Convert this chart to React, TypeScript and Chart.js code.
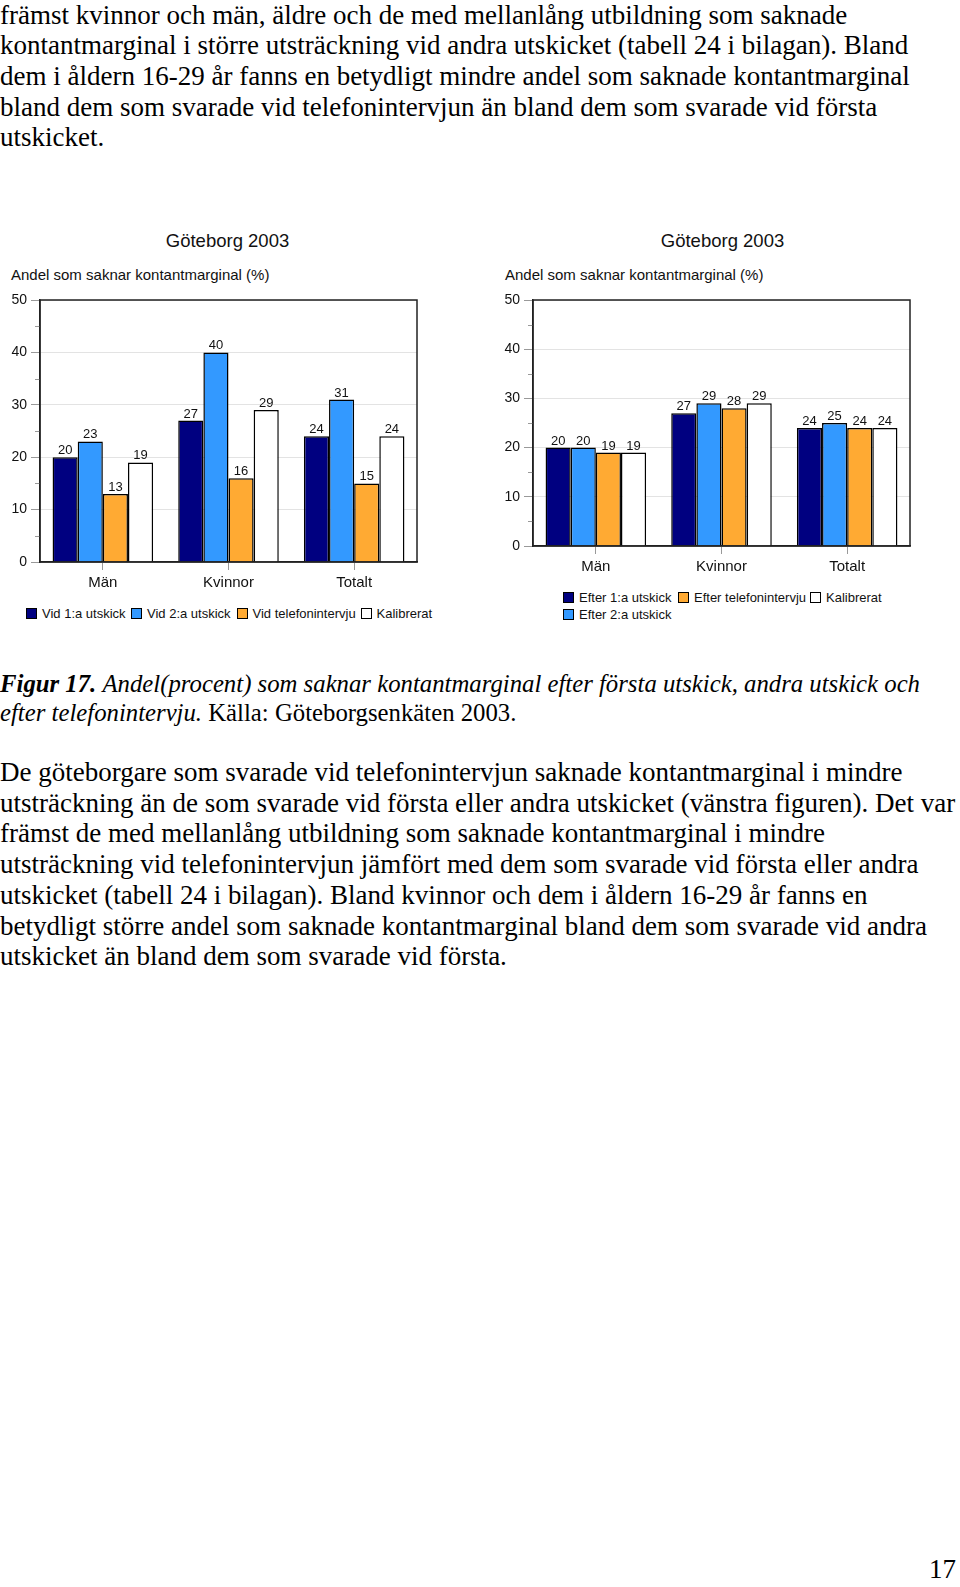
import React, { useEffect, useRef } from "react";
import { Chart, registerables } from "chart.js";

Chart.register(...registerables);

const SANS = "'Liberation Sans', Arial, sans-serif";
const SERIF = "'Liberation Serif', 'Times New Roman', serif";

const categories = ["Män", "Kvinnor", "Totalt"];
const yTickValues = [0, 10, 20, 30, 40, 50];
const minorTickValues = [5, 15, 25, 35, 45];

const chartTitle = "Göteborg 2003";
const axisTitle = "Andel som saknar kontantmarginal (%)";

const leftSeriesNames = ["Vid 1:a utskick", "Vid 2:a utskick", "Vid telefonintervju", "Kalibrerat"];
const leftVid1 = [20, 27, 24];
const leftVid2 = [23, 40, 31];
const leftTelefon = [13, 16, 15];
const leftKalibrerat = [19, 29, 24];

const rightSeriesNames = ["Efter 1:a utskick", "Efter 2:a utskick", "Efter telefonintervju", "Kalibrerat"];
const rightEfter1 = [20, 27, 24];
const rightEfter2 = [20, 29, 25];
const rightTelefon = [19, 28, 24];
const rightKalibrerat = [19, 29, 24];

const seriesColors = ["#000080", "#3399FF", "#FFAA33", "#FFFFFF"];

const chartPlugin = {
  id: "frameAndLabels",
  afterDatasetsDraw(chart: any) {
    const { ctx } = chart;
    ctx.save();
    ctx.font = `13px ${SANS}`;
    ctx.fillStyle = "#111";
    ctx.textAlign = "center";
    ctx.textBaseline = "alphabetic";
    chart.data.datasets.forEach((ds: any, i: number) => {
      chart.getDatasetMeta(i).data.forEach((el: any, j: number) => {
        ctx.fillText(String(ds.data[j]), el.x, el.y - 3);
      });
    });
    ctx.restore();
  },
  afterDraw(chart: any) {
    const { ctx, chartArea: a } = chart;
    const y = chart.scales.y;
    ctx.save();
    ctx.strokeStyle = "#999";
    ctx.lineWidth = 1;
    minorTickValues.forEach((v) => {
      const py = Math.round(y.getPixelForValue(v)) + 0.5;
      ctx.beginPath();
      ctx.moveTo(a.left - 5, py);
      ctx.lineTo(a.left, py);
      ctx.stroke();
    });
    ctx.strokeStyle = "#222";
    ctx.lineWidth = 1.5;
    ctx.strokeRect(a.left, a.top, a.right - a.left, a.bottom - a.top);
    ctx.restore();
  },
};

function BarChart(props: {
  names: string[];
  values: number[][];
  left: number;
  top: number;
  width: number;
  height: number;
}) {
  const ref = useRef<HTMLCanvasElement>(null);
  useEffect(() => {
    const canvas = ref.current!;
    const chart = new Chart(canvas, {
      type: "bar",
      data: {
        labels: categories,
        datasets: props.names.map((name, i) => ({
          label: name,
          data: props.values[i],
          backgroundColor: seriesColors[i],
          borderColor: "#000",
          borderWidth: 1.5,
          categoryPercentage: 0.8,
          barPercentage: 1,
        })),
      },
      options: {
        animation: false,
        responsive: false,
        layout: { padding: { top: 20, right: 23, left: 0, bottom: 0 } },
        plugins: {
          legend: { display: false },
          title: { display: false },
          tooltip: { enabled: false },
        },
        scales: {
          x: {
            grid: {
              drawOnChartArea: false,
              offset: false,
              tickLength: 8,
              tickColor: "#999",
            },
            border: { color: "#222", width: 1.5 },
            ticks: {
              color: "#111",
              font: { family: SANS, size: 15 },
              padding: 4,
              maxRotation: 0,
            },
            afterFit: (s: any) => {
              s.height = 38;
            },
          },
          y: {
            min: 0,
            max: 50,
            afterBuildTicks: (s: any) => {
              s.ticks = yTickValues.map((v) => ({ value: v }));
            },
            grid: { color: "#e3e3e3", tickLength: 9, tickColor: "#999" },
            border: { color: "#222", width: 1.5 },
            ticks: {
              color: "#111",
              font: { family: SANS, size: 14 },
              padding: 4,
            },
            afterFit: (s: any) => {
              s.width = 40;
            },
          },
        },
      } as any,
      plugins: [chartPlugin],
    });
    return () => chart.destroy();
  }, []);
  return (
    <canvas
      ref={ref}
      width={props.width}
      height={props.height}
      style={{
        position: "absolute",
        left: props.left,
        top: props.top,
        width: props.width,
        height: props.height,
      }}
    />
  );
}

function SansText(props: { x: number; y: number; size: number; children: React.ReactNode; center?: boolean }) {
  const style: React.CSSProperties = {
    position: "absolute",
    top: props.y - props.size / 2,
    fontFamily: SANS,
    fontSize: props.size,
    lineHeight: `${props.size}px`,
    color: "#111",
    whiteSpace: "nowrap",
  };
  if (props.center) {
    style.left = props.x - 200;
    style.width = 400;
    style.textAlign = "center";
  } else {
    style.left = props.x;
  }
  return <div style={style}>{props.children}</div>;
}

function LegendItem(props: { x: number; y: number; color: string; label: string }) {
  return (
    <>
      <div
        style={{
          position: "absolute",
          left: props.x,
          top: props.y - 5.5,
          width: 11,
          height: 11,
          boxSizing: "border-box",
          border: "1px solid #000",
          background: props.color,
        }}
      />
      <SansText x={props.x + 16} y={props.y} size={13}>
        {props.label}
      </SansText>
    </>
  );
}

function Lines(props: { top: number; lh: number; size: number; lines: React.ReactNode[] }) {
  return (
    <>
      {props.lines.map((l, i) => (
        <div
          key={i}
          style={{
            position: "absolute",
            left: 0,
            top: props.top + i * props.lh,
            fontFamily: SERIF,
            fontSize: props.size,
            lineHeight: `${props.lh}px`,
            whiteSpace: "nowrap",
            color: "#000",
          }}
        >
          {l}
        </div>
      ))}
    </>
  );
}

export default function App() {
  return (
    <div
      style={{
        position: "absolute",
        left: 0,
        top: 0,
        width: 960,
        height: 1587,
        background: "#fff",
        overflow: "hidden",
      }}
    >
      <Lines
        top={-0.5}
        lh={30.7}
        size={27}
        lines={[
          "främst kvinnor och män, äldre och de med mellanlång utbildning som saknade",
          "kontantmarginal i större utsträckning vid andra utskicket (tabell 24 i bilagan). Bland",
          "dem i åldern 16-29 år fanns en betydligt mindre andel som saknade kontantmarginal",
          "bland dem som svarade vid telefonintervjun än bland dem som svarade vid första",
          "utskicket.",
        ]}
      />

      {/* Left chart */}
      <SansText x={227.5} y={241.7} size={18.5} center>
        {chartTitle}
      </SansText>
      <SansText x={11} y={274} size={15}>
        {axisTitle}
      </SansText>
      <BarChart
        names={leftSeriesNames}
        values={[leftVid1, leftVid2, leftTelefon, leftKalibrerat]}
        left={0}
        top={280}
        width={440}
        height={320}
      />
      <LegendItem x={26} y={613} color={seriesColors[0]} label={leftSeriesNames[0]} />
      <LegendItem x={131} y={613} color={seriesColors[1]} label={leftSeriesNames[1]} />
      <LegendItem x={236.5} y={613} color={seriesColors[2]} label={leftSeriesNames[2]} />
      <LegendItem x={360.5} y={613} color={seriesColors[3]} label={leftSeriesNames[3]} />

      {/* Right chart */}
      <SansText x={722.5} y={241.7} size={18.5} center>
        {chartTitle}
      </SansText>
      <SansText x={505} y={274} size={15}>
        {axisTitle}
      </SansText>
      <BarChart
        names={rightSeriesNames}
        values={[rightEfter1, rightEfter2, rightTelefon, rightKalibrerat]}
        left={493}
        top={280}
        width={440}
        height={304}
      />
      <LegendItem x={563} y={597} color={seriesColors[0]} label={rightSeriesNames[0]} />
      <LegendItem x={563} y={614} color={seriesColors[1]} label={rightSeriesNames[1]} />
      <LegendItem x={678} y={597} color={seriesColors[2]} label={rightSeriesNames[2]} />
      <LegendItem x={810} y={597} color={seriesColors[3]} label={rightSeriesNames[3]} />

      <Lines
        top={669}
        lh={29}
        size={24.75}
        lines={[
          <>
            <b>
              <i>Figur 17.</i>
            </b>{" "}
            <i>Andel(procent) som saknar kontantmarginal efter första utskick, andra utskick och</i>
          </>,
          <>
            <i>efter telefonintervju.</i> Källa: Göteborgsenkäten 2003.
          </>,
        ]}
      />

      <Lines
        top={757}
        lh={30.7}
        size={27}
        lines={[
          "De göteborgare som svarade vid telefonintervjun saknade kontantmarginal i mindre",
          "utsträckning än de som svarade vid första eller andra utskicket (vänstra figuren). Det var",
          "främst de med mellanlång utbildning som saknade kontantmarginal i mindre",
          "utsträckning vid telefonintervjun jämfört med dem som svarade vid första eller andra",
          "utskicket (tabell 24 i bilagan). Bland kvinnor och dem i åldern 16-29 år fanns en",
          "betydligt större andel som saknade kontantmarginal bland dem som svarade vid andra",
          "utskicket än bland dem som svarade vid första.",
        ]}
      />

      <div
        style={{
          position: "absolute",
          right: 4,
          top: 1554,
          fontFamily: SERIF,
          fontSize: 27,
          lineHeight: "31px",
          color: "#000",
          whiteSpace: "nowrap",
        }}
      >
        17
      </div>
    </div>
  );
}
